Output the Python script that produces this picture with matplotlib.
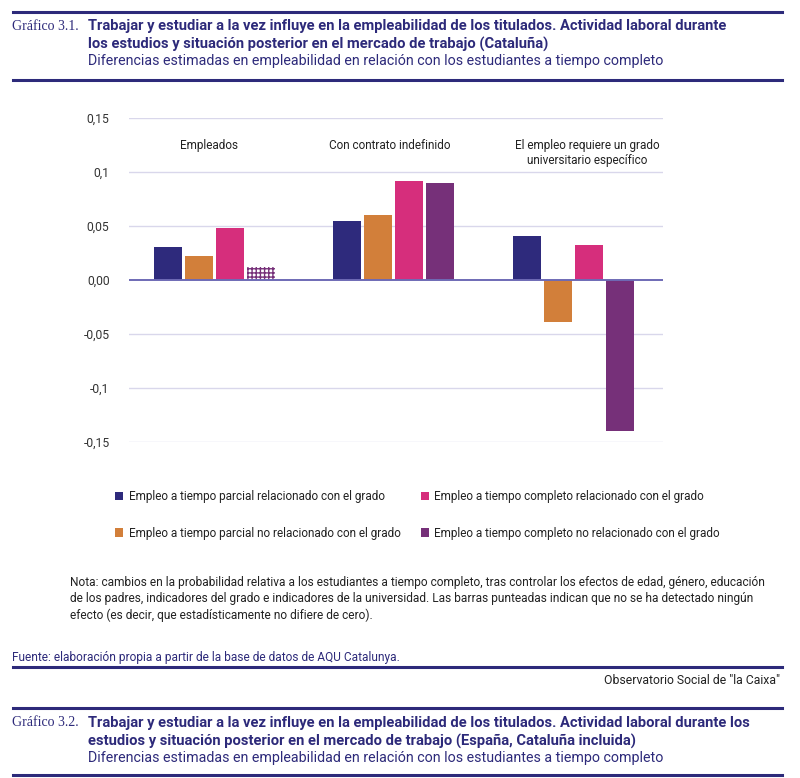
import numpy as np
import matplotlib.pyplot as plt
from matplotlib.lines import Line2D
from matplotlib.patches import Patch

plt.rcParams['font.family'] = ['Roboto', 'DejaVu Sans']

# datos
groups = ['Empleados', 'Con contrato indefinido',
          'El empleo requiere un grado\nuniversitario específico']
series = ['Empleo a tiempo parcial relacionado con el grado',
          'Empleo a tiempo parcial no relacionado con el grado',
          'Empleo a tiempo completo relacionado con el grado',
          'Empleo a tiempo completo no relacionado con el grado']
parcial_rel = [0.031, 0.055, 0.0405]
parcial_norel = [0.0225, 0.060, -0.039]
completo_rel = [0.048, 0.092, 0.032]
completo_norel = [0.0125, 0.090, -0.140]
# barras punteadas = no difiere de cero
no_signif = [[False, False, False],
             [False, False, False],
             [False, False, False],
             [True, False, False]]
yticks = [0.15, 0.1, 0.05, 0.0, -0.05, -0.1, -0.15]
ytick_labels = ['0,15', '0,1', '0,05', '0,00', '-0,05', '-0,1', '-0,15']

colors = ['#2e2a7c', '#d27f3a', '#d62e7c', '#763079']
navy = '#2d2a7a'

W, H = 800, 778
fig = plt.figure(figsize=(W / 100, H / 100), dpi=100)

def px(x, y):
    return x / W, 1 - y / H

def hline(x0, x1, y, lw=2.0, color=navy):
    fig.add_artist(Line2D([x0 / W, x1 / W], [1 - y / H, 1 - y / H],
                          transform=fig.transFigure, color=color, lw=lw))

# ejes
ax = fig.add_axes([129 / W, 1 - 442 / H, 534 / W, 324 / H])
x = np.arange(len(groups))
step = 0.1725
width = 0.156
for i, vals in enumerate([parcial_rel, parcial_norel, completo_rel, completo_norel]):
    for j, v in enumerate(vals):
        xpos = x[j] + (i - 1.5) * step
        if no_signif[i][j]:
            ax.bar(xpos, v, width, facecolor='white', edgecolor=colors[i],
                   hatch='++++', linewidth=0, zorder=3)
        else:
            ax.bar(xpos, v, width, color=colors[i], zorder=3)

ax.set_xlim(-0.475, 2.5)
ax.set_ylim(-0.15, 0.15)
ax.set_yticks(yticks)
ax.set_yticklabels(ytick_labels)
ax.set_xticks([])
ax.tick_params(axis='y', length=0, pad=14, labelsize=8.7, labelcolor='#333333')
for s in ax.spines.values():
    s.set_visible(False)
for t in yticks:
    if t != 0:
        ax.axhline(t, color='#d9d7eb', lw=1.0, zorder=1)
ax.axhline(0, color='#6e6ab5', lw=1.4, zorder=4)

label_dx = [-0.03, -0.025, 0.08]
for j, g in enumerate(groups):
    ax.text(x[j] + label_dx[j], 0.1305, g, ha='center', va='top', fontsize=8.5,
            color='#222222', linespacing=1.15)

# leyenda
handles = [Patch(facecolor=c, edgecolor='none') for c in colors]
fig.legend(handles, series, ncol=2, loc='upper left',
           bbox_to_anchor=px(115, 490), frameon=False, fontsize=8.5,
           handlelength=0.7, handleheight=0.7, handletextpad=0.45,
           columnspacing=1.7, labelspacing=2.0, borderpad=0, borderaxespad=0,
           labelcolor='#222222')

# cabecera
hline(13, 782, 12, lw=2.2)
fig.text(*px(12, 26), 'Gráfico 3.1.', family='Liberation Serif', fontsize=10,
         color=navy, va='center')
fig.text(*px(88, 26), 'Trabajar y estudiar a la vez influye en la empleabilidad de los titulados. Actividad laboral durante',
         fontsize=10.6, fontweight='bold', color=navy, va='center')
fig.text(*px(88, 44), 'los estudios y situación posterior en el mercado de trabajo (Cataluña)',
         fontsize=10.6, fontweight='bold', color=navy, va='center')
fig.text(*px(88, 61), 'Diferencias estimadas en empleabilidad en relación con los estudiantes a tiempo completo',
         fontsize=10.3, color=navy, va='center')
hline(13, 782, 80, lw=2.2)

# nota y fuente
nota = ('Nota: cambios en la probabilidad relativa a los estudiantes a tiempo completo, tras controlar los efectos de edad, género, educación\n'
        'de los padres, indicadores del grado e indicadores de la universidad. Las barras punteadas indican que no se ha detectado ningún\n'
        'efecto (es decir, que estadísticamente no difiere de cero).')
fig.text(*px(70, 576), nota, fontsize=8.6, color='#222222', va='top', linespacing=1.33)
fig.text(*px(12, 657), 'Fuente: elaboración propia a partir de la base de datos de AQU Catalunya.',
         fontsize=8.6, color=navy, va='center')
hline(13, 782, 667, lw=2.2)
fig.text(*px(780, 680), 'Observatorio Social de "la Caixa"', fontsize=8.8,
         color='#222222', va='center', ha='right')

# siguiente gráfico
hline(13, 782, 708, lw=2.2)
fig.text(*px(12, 723), 'Gráfico 3.2.', family='Liberation Serif', fontsize=10,
         color=navy, va='center')
fig.text(*px(88, 723), 'Trabajar y estudiar a la vez influye en la empleabilidad de los titulados. Actividad laboral durante los',
         fontsize=10.6, fontweight='bold', color=navy, va='center')
fig.text(*px(88, 741), 'estudios y situación posterior en el mercado de trabajo (España, Cataluña incluida)',
         fontsize=10.6, fontweight='bold', color=navy, va='center')
fig.text(*px(88, 758), 'Diferencias estimadas en empleabilidad en relación con los estudiantes a tiempo completo',
         fontsize=10.3, color=navy, va='center')
hline(13, 782, 775, lw=2.2)

fig.savefig('out.png', dpi=100)
